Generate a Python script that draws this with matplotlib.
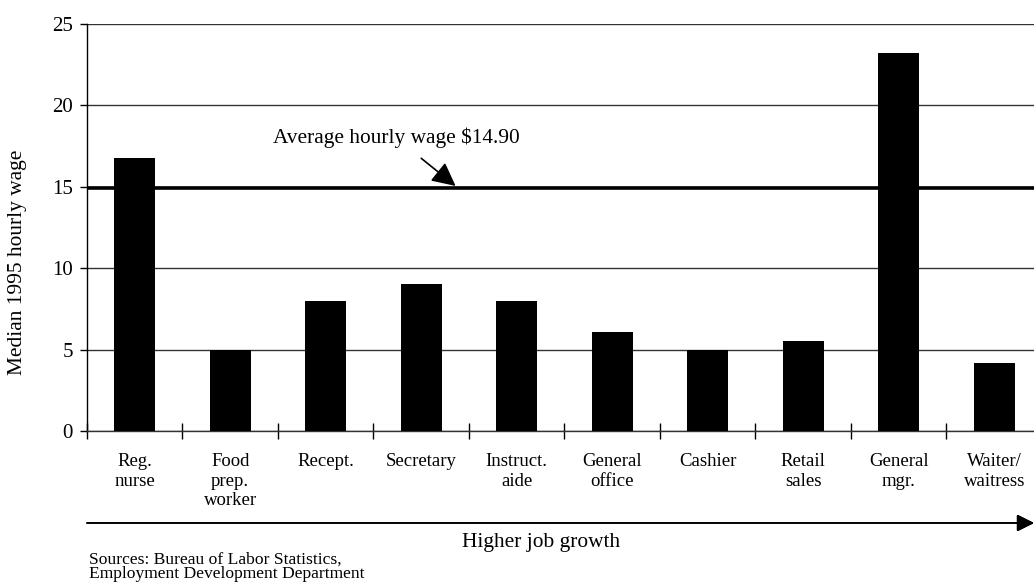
import numpy as np
import matplotlib.pyplot as plt

jobs = ['Reg.\nnurse', 'Food\nprep.\nworker', 'Recept.', 'Secretary', 'Instruct.\naide',
        'General\noffice', 'Cashier', 'Retail\nsales', 'General\nmgr.', 'Waiter/\nwaitress']
wages = [16.75, 5.0, 8.0, 9.0, 8.0, 6.05, 5.0, 5.5, 23.2, 4.2]
avg_wage = 14.9

plt.rcParams['font.family'] = ['Liberation Serif', 'DejaVu Serif']

fig = plt.figure(figsize=(10.34, 5.82), dpi=100)
ax = fig.add_axes([0.0841, 0.2595, 0.9236, 0.6993])

x = np.arange(len(jobs))
ax.set_axisbelow(True)
ax.yaxis.grid(True, color='#333333', linewidth=1.0)
ax.bar(x, wages, width=0.43, color='black', zorder=3)
ax.axhline(avg_wage, color='black', linewidth=2.6, zorder=4)

ax.set_xlim(-0.5, len(jobs) - 0.5)
ax.set_ylim(0, 25)
ax.set_yticks([0, 5, 10, 15, 20, 25])
ax.tick_params(axis='y', labelsize=15, length=5, width=1, direction='out', pad=5)
ax.set_xticks(x)
ax.set_xticklabels(jobs, fontsize=13.5, linespacing=1.2)
ax.tick_params(axis='x', which='major', length=0, pad=16)
ax.set_xticks(np.arange(-0.5, len(jobs), 1.0), minor=True)
ax.tick_params(axis='x', which='minor', length=11, width=1, direction='inout')

for s in ['top', 'right']:
    ax.spines[s].set_visible(False)
ax.spines['left'].set_linewidth(1)
ax.spines['bottom'].set_linewidth(1)
ax.spines['bottom'].set_color('#333333')

ax.set_ylabel('Median 1995 hourly wage', fontsize=15.4)
ax.yaxis.set_label_coords(-0.063, 0.415)

ax.annotate('', xy=(3.36, avg_wage + 0.15), xytext=(3.0, 16.75),
            arrowprops=dict(arrowstyle='-|>', color='black', lw=1.2,
                            mutation_scale=36, shrinkA=0, shrinkB=0))
ax.text(2.74, 18.0, 'Average hourly wage $14.90', fontsize=15.4, ha='center', va='center')

# growth arrow along the bottom
fig.add_artist(plt.annotate('', xy=(1.0, 1 - 523 / 582), xytext=(87 / 1034, 1 - 523 / 582),
                            xycoords='figure fraction', textcoords='figure fraction',
                            arrowprops=dict(arrowstyle='-|>', color='black', lw=1.2,
                                            mutation_scale=26, shrinkA=0, shrinkB=0)))
fig.text(541 / 1034, 1 - 543 / 582, 'Higher job growth', fontsize=15.4, ha='center', va='center')
fig.text(89 / 1034, 1 - 567 / 582, 'Sources: Bureau of Labor Statistics,\nEmployment Development Department',
         fontsize=12.6, ha='left', va='center', linespacing=0.9)

fig.savefig('out.png', dpi=100)
